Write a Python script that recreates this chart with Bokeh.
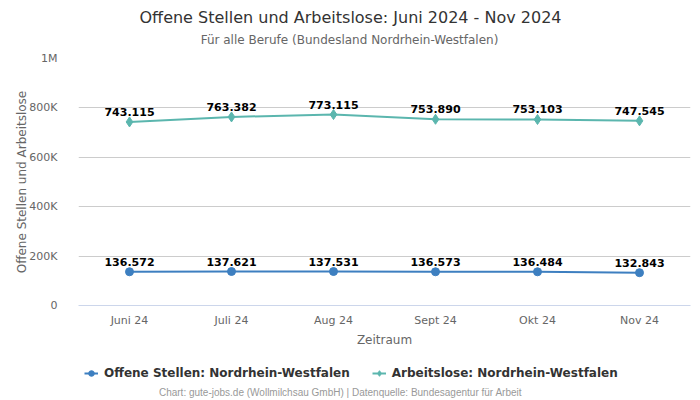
from bokeh.plotting import figure
from bokeh.layouts import column
from bokeh.models import (FactorRange, Range1d, FixedTicker, CustomJSTickFormatter, Label,
                          Legend, LegendItem, ColumnDataSource)
from bokeh.core.properties import value
from bokeh.embed import file_html
from bokeh.resources import INLINE

months = ["Juni 24", "Juli 24", "Aug 24", "Sept 24", "Okt 24", "Nov 24"]
offene_stellen = [136572, 137621, 137531, 136573, 136484, 132843]
arbeitslose = [743115, 763382, 773115, 753890, 753103, 747545]
y_ticks = [0, 200000, 400000, 600000, 800000, 1000000]
series_names = ["Offene Stellen: Nordrhein-Westfalen", "Arbeitslose: Nordrhein-Westfalen"]

BLUE = "#3d7fc0"
TEAL = "#5bb6ae"


def de(v):
    return f"{v:,}".replace(",", ".")


def blank(height):
    f = figure(width=700, height=height, output_backend="svg", toolbar_location=None,
               x_axis_location=None, y_axis_location=None,
               x_range=Range1d(0, 1), y_range=Range1d(0, 1), min_border=0,
               min_border_left=78, min_border_right=10)
    f.outline_line_color = None
    f.xgrid.grid_line_color = None
    f.ygrid.grid_line_color = None
    f.border_fill_color = "white"
    return f


# ---- header (frame spans x 78..690) ----
top = blank(50)
top.add_layout(Label(x=272, y=33, x_units="screen", y_units="screen",
                     text="Offene Stellen und Arbeitslose: Juni 2024 - Nov 2024",
                     text_font="DejaVu Sans", text_font_size="16px", text_color="#333333",
                     text_align="center", text_baseline="middle"))
top.add_layout(Label(x=271, y=11, x_units="screen", y_units="screen",
                     text="Für alle Berufe (Bundesland Nordrhein-Westfalen)",
                     text_font="DejaVu Sans", text_font_size="12px", text_color="#666666",
                     text_align="center", text_baseline="middle"))

# ---- main chart ----
p = figure(width=700, height=300, output_backend="svg", toolbar_location=None,
           x_range=FactorRange(factors=months, range_padding=0),
           y_range=Range1d(0, 1000000),
           min_border_left=78, min_border_right=10, min_border_top=8, min_border_bottom=45)
p.outline_line_color = None
p.border_fill_color = "white"

p.yaxis.ticker = FixedTicker(ticks=y_ticks)
p.yaxis.formatter = CustomJSTickFormatter(code="""
if (tick == 0) return '0';
if (tick >= 1000000) return (tick/1000000) + 'M';
return (tick/1000) + 'K';
""")
p.yaxis.axis_line_color = None
p.yaxis.major_tick_line_color = None
p.yaxis.minor_tick_line_color = None
p.yaxis.major_label_text_color = "#666666"
p.yaxis.major_label_text_font = "DejaVu Sans"
p.yaxis.major_label_text_font_size = "11px"
p.yaxis.major_label_standoff = 15
p.yaxis.axis_label = "Offene Stellen und Arbeitslose"
p.yaxis.axis_label_text_font = "DejaVu Sans"
p.yaxis.axis_label_text_font_style = "normal"
p.yaxis.axis_label_text_font_size = "12px"
p.yaxis.axis_label_text_color = "#666666"
p.yaxis.axis_label_standoff = -3

p.xaxis.axis_line_color = "#ccd6eb"
p.xaxis.major_tick_line_color = None
p.xaxis.minor_tick_line_color = None
p.xaxis.major_label_text_color = "#666666"
p.xaxis.major_label_text_font = "DejaVu Sans"
p.xaxis.major_label_text_font_size = "11px"
p.xaxis.major_label_standoff = 2
p.xaxis.axis_label = "Zeitraum"
p.xaxis.axis_label_text_font = "DejaVu Sans"
p.xaxis.axis_label_text_font_style = "normal"
p.xaxis.axis_label_text_font_size = "12px"
p.xaxis.axis_label_text_color = "#666666"
p.xaxis.axis_label_standoff = 3

p.xgrid.grid_line_color = None
p.ygrid.grid_line_color = "#cccccc"
p.ygrid.grid_line_width = 1

src_o = ColumnDataSource(dict(x=months, y=offene_stellen, lbl=[de(v) for v in offene_stellen]))
src_a = ColumnDataSource(dict(x=months, y=arbeitslose, lbl=[de(v) for v in arbeitslose]))

p.line("x", "y", source=src_o, line_color=BLUE, line_width=2)
p.scatter("x", "y", source=src_o, marker="circle", size=8, fill_color=BLUE, line_color=BLUE)
p.line("x", "y", source=src_a, line_color=TEAL, line_width=2)
p.scatter("x", "y", source=src_a, marker="diamond", size=10, fill_color=TEAL, line_color=TEAL)

for src in (src_o, src_a):
    p.text("x", "y", text="lbl", source=src, text_font=value("DejaVu Sans"),
           text_font_style="bold", text_font_size="11px", text_color="#000000",
           text_align="center", text_baseline="bottom", y_offset=-6)

# ---- legend + footer ----
# legend swatches: same series, plotted far outside this strip's 0..1 range so only the legend icons show
bot = blank(50)
bl1 = bot.line("y", "y", source=src_o, line_color=BLUE, line_width=2)
bm1 = bot.scatter("y", "y", source=src_o, marker="circle", size=8, fill_color=BLUE, line_color=BLUE)
bl2 = bot.line("y", "y", source=src_a, line_color=TEAL, line_width=2)
bm2 = bot.scatter("y", "y", source=src_a, marker="diamond", size=10, fill_color=TEAL, line_color=TEAL)

legend = Legend(items=[LegendItem(label=series_names[0], renderers=[bl1, bm1]),
                       LegendItem(label=series_names[1], renderers=[bl2, bm2])],
                orientation="horizontal", location=(6, 20),
                label_text_font="DejaVu Sans", label_text_font_style="bold",
                label_text_font_size="12px", label_text_color="#333333",
                glyph_width=14, glyph_height=14, label_standoff=6, spacing=22,
                padding=0, margin=0, background_fill_alpha=0, border_line_color=None)
bot.add_layout(legend)

bot.add_layout(Label(x=262, y=8, x_units="screen", y_units="screen",
                     text="Chart: gute-jobs.de (Wollmilchsau GmbH) | Datenquelle: Bundesagentur für Arbeit",
                     text_font="Liberation Sans", text_font_size="10px", text_color="#999999",
                     text_align="center", text_baseline="middle"))

layout = column(top, p, bot, spacing=0)
open("out.html", "w").write(file_html(layout, INLINE))
